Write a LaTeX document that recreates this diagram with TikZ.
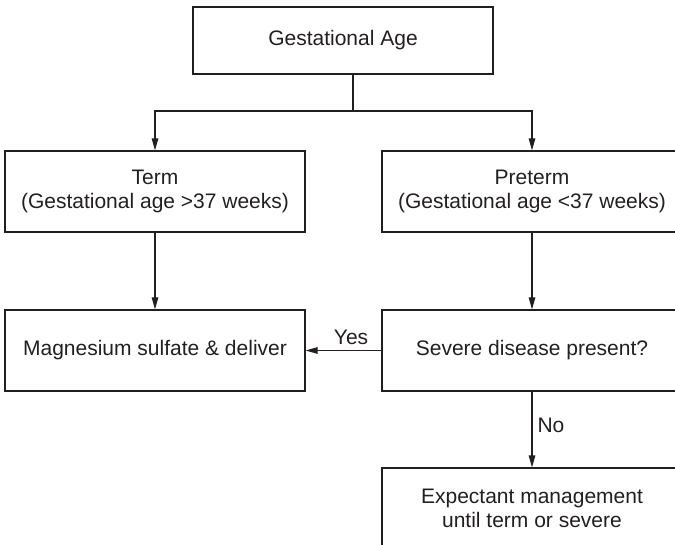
\documentclass[tikz,border=0pt]{standalone}
\usepackage{fontspec}
\setmainfont{Liberation Sans}
\usetikzlibrary{arrows.meta}
\definecolor{ink}{HTML}{231F20}
\begin{document}
\begin{tikzpicture}[x=1pt,y=-1pt,
  box/.style={draw=ink, line width=1.1pt, minimum width=300pt, minimum height=81pt, inner sep=0pt, align=center, text=ink, font=\fontsize{21}{24}\selectfont},
  conn/.style={draw=ink, line width=1.1pt, -{Triangle[length=12pt,width=6.5pt]}},
  plain/.style={draw=ink, line width=1.1pt},
  lbl/.style={text=ink, font=\fontsize{21}{24}\selectfont, inner sep=1pt}]
\useasboundingbox (0,0) rectangle (675,545);
\clip (0,0) rectangle (675,545);
\node[box, minimum height=67pt] (top) at (343,40.5) {Gestational Age};
\node[box] (term) at (155,191.5) {Term\\(Gestational age >37 weeks)};
\node[box] (pre) at (532,191.5) {Preterm\\(Gestational age <37 weeks)};
\node[box] (mag) at (155,350.5) {Magnesium sulfate \& deliver};
\node[box] (sev) at (532,350.5) {Severe disease present?};
\node[box] (exp) at (532,508.5) {Expectant management\\until term or severe};
\coordinate (j) at (353,111);
\draw[plain] (top.south -| j) -- (j);
\draw[conn] (j) -| (term.north);
\draw[conn] (j) -| (pre.north);
\draw[conn] (term) -- (mag);
\draw[conn] (pre) -- (sev);
\draw[conn] (sev.west) -- node[lbl, above=4pt, pos=0.4] {Yes} (mag.east);
\draw[conn] (sev) -- node[lbl, right=4pt, pos=0.44] {No} (exp);
\end{tikzpicture}
\end{document}
